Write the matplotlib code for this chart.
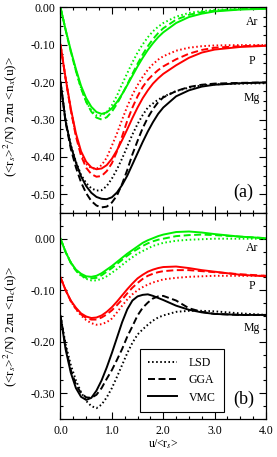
import matplotlib
matplotlib.use('Agg')
import matplotlib.pyplot as plt
from matplotlib.ticker import MultipleLocator, FormatStrFormatter

plt.rcParams['font.family'] = 'Liberation Serif'
plt.rcParams['mathtext.fontset'] = 'stix'
plt.rcParams['axes.unicode_minus'] = False

# u/<r_s> grid
u = [0.0, 0.1, 0.2, 0.3, 0.4, 0.5, 0.6, 0.7, 0.8, 0.9, 1.0, 1.1, 1.2, 1.3, 1.4,
     1.5, 1.6, 1.7, 1.8, 1.9, 2.0, 2.25, 2.5, 2.75, 3.0, 3.5, 4.0]

# exchange hole (panel a), curves shifted by species
ar_x_lsd = [0.0, -0.061, -0.118, -0.170, -0.216, -0.252, -0.276, -0.289, -0.290, -0.280, -0.262, -0.236, -0.205, -0.176,
            -0.147, -0.121, -0.099, -0.080, -0.064, -0.052, -0.042, -0.025, -0.015, -0.010, -0.007, -0.004, -0.003]
ar_x_gga = [0.0, -0.061, -0.118, -0.170, -0.217, -0.253, -0.279, -0.295, -0.300, -0.294, -0.279, -0.258, -0.233, -0.206,
            -0.178, -0.151, -0.126, -0.104, -0.085, -0.069, -0.056, -0.033, -0.020, -0.013, -0.009, -0.005, -0.003]
ar_x_vmc = [0.0, -0.060, -0.115, -0.165, -0.210, -0.243, -0.266, -0.280, -0.285, -0.281, -0.270, -0.253, -0.232, -0.208,
            -0.183, -0.158, -0.135, -0.114, -0.096, -0.080, -0.067, -0.042, -0.026, -0.017, -0.011, -0.006, -0.004]

p_x_lsd = [-0.100, -0.191, -0.273, -0.341, -0.390, -0.419, -0.430, -0.432, -0.422, -0.402, -0.370, -0.337, -0.300, -0.265,
           -0.234, -0.208, -0.186, -0.167, -0.152, -0.140, -0.131, -0.116, -0.108, -0.104, -0.102, -0.101, -0.101]
p_x_gga = [-0.100, -0.192, -0.275, -0.345, -0.397, -0.429, -0.446, -0.453, -0.451, -0.438, -0.417, -0.385, -0.345, -0.303,
           -0.268, -0.238, -0.213, -0.194, -0.180, -0.168, -0.158, -0.139, -0.124, -0.114, -0.108, -0.104, -0.102]
p_x_vmc = [-0.100, -0.190, -0.270, -0.337, -0.385, -0.413, -0.428, -0.433, -0.431, -0.422, -0.405, -0.382, -0.355, -0.326,
           -0.296, -0.268, -0.243, -0.222, -0.204, -0.190, -0.178, -0.155, -0.135, -0.121, -0.113, -0.106, -0.103]

mg_x_lsd = [-0.200, -0.303, -0.368, -0.413, -0.448, -0.470, -0.484, -0.490, -0.489, -0.478, -0.458, -0.433, -0.404, -0.372,
            -0.340, -0.312, -0.288, -0.268, -0.257, -0.247, -0.239, -0.224, -0.215, -0.209, -0.206, -0.204, -0.203]
mg_x_gga = [-0.200, -0.308, -0.378, -0.428, -0.468, -0.497, -0.518, -0.530, -0.535, -0.533, -0.522, -0.503, -0.472, -0.435,
            -0.393, -0.357, -0.323, -0.295, -0.272, -0.254, -0.241, -0.224, -0.213, -0.207, -0.204, -0.202, -0.201]
mg_x_vmc = [-0.200, -0.305, -0.370, -0.415, -0.452, -0.478, -0.496, -0.507, -0.512, -0.513, -0.508, -0.495, -0.475, -0.450,
            -0.420, -0.390, -0.360, -0.332, -0.307, -0.285, -0.268, -0.238, -0.222, -0.212, -0.207, -0.203, -0.201]

# correlation hole (panel b)
ar_c_lsd = [0.000, -0.025, -0.046, -0.062, -0.072, -0.078, -0.081, -0.081, -0.078, -0.073, -0.066, -0.059, -0.051, -0.043,
            -0.036, -0.029, -0.024, -0.019, -0.014, -0.011, -0.008, -0.004, -0.002, -0.001, 0.000, 0.000, 0.000]
ar_c_gga = [0.000, -0.026, -0.047, -0.062, -0.071, -0.076, -0.077, -0.076, -0.071, -0.064, -0.057, -0.049, -0.041, -0.033,
            -0.026, -0.020, -0.014, -0.009, -0.005, -0.002, 0.000, 0.005, 0.007, 0.008, 0.007, 0.004, 0.001]
ar_c_vmc = [0.000, -0.026, -0.046, -0.060, -0.068, -0.073, -0.074, -0.072, -0.067, -0.060, -0.053, -0.045, -0.037, -0.029,
            -0.022, -0.015, -0.008, -0.003, 0.001, 0.005, 0.008, 0.013, 0.014, 0.012, 0.009, 0.004, 0.001]

p_c_lsd = [-0.075, -0.100, -0.121, -0.137, -0.149, -0.158, -0.164, -0.167, -0.166, -0.162, -0.155, -0.143, -0.130, -0.118,
           -0.108, -0.100, -0.094, -0.089, -0.085, -0.082, -0.079, -0.076, -0.074, -0.073, -0.072, -0.072, -0.072]
p_c_gga = [-0.075, -0.100, -0.121, -0.136, -0.147, -0.154, -0.157, -0.157, -0.153, -0.147, -0.139, -0.129, -0.118, -0.106,
           -0.095, -0.086, -0.078, -0.072, -0.068, -0.065, -0.063, -0.061, -0.061, -0.063, -0.065, -0.069, -0.072]
p_c_vmc = [-0.075, -0.100, -0.120, -0.134, -0.145, -0.151, -0.154, -0.153, -0.149, -0.142, -0.133, -0.122, -0.110, -0.098,
           -0.087, -0.077, -0.070, -0.064, -0.060, -0.057, -0.055, -0.054, -0.057, -0.061, -0.064, -0.070, -0.073]

mg_c_lsd = [-0.150, -0.205, -0.245, -0.275, -0.298, -0.315, -0.325, -0.329, -0.322, -0.308, -0.290, -0.268, -0.245, -0.222,
            -0.202, -0.186, -0.176, -0.167, -0.159, -0.153, -0.149, -0.142, -0.140, -0.140, -0.141, -0.145, -0.148]
mg_c_gga = [-0.150, -0.210, -0.255, -0.283, -0.300, -0.308, -0.309, -0.303, -0.290, -0.272, -0.255, -0.235, -0.214, -0.190,
            -0.170, -0.149, -0.134, -0.124, -0.116, -0.112, -0.111, -0.120, -0.135, -0.142, -0.146, -0.148, -0.148]
mg_c_vmc = [-0.150, -0.215, -0.260, -0.290, -0.307, -0.313, -0.309, -0.295, -0.275, -0.250, -0.222, -0.192, -0.162, -0.137,
            -0.120, -0.112, -0.109, -0.108, -0.111, -0.115, -0.119, -0.130, -0.138, -0.143, -0.146, -0.148, -0.148]

species = ['Ar', 'P', 'Mg']
colors = ['#00f000', '#ff0000', 'black']
methods = ['LSD', 'GGA', 'VMC']
dashes = [(0, (0.8, 1.3)), (0, (3.6, 1.8)), '-']

x_curves = [[ar_x_lsd, ar_x_gga, ar_x_vmc],
            [p_x_lsd, p_x_gga, p_x_vmc],
            [mg_x_lsd, mg_x_gga, mg_x_vmc]]
c_curves = [[ar_c_lsd, ar_c_gga, ar_c_vmc],
            [p_c_lsd, p_c_gga, p_c_vmc],
            [mg_c_lsd, mg_c_gga, mg_c_vmc]]

fs = 8.5
fig = plt.figure(figsize=(2.77, 4.57), dpi=100)
ax1 = fig.add_axes([0.2184, 0.5339, 0.7419, 0.4501])
ax2 = fig.add_axes([0.2184, 0.0832, 0.7419, 0.4508])

for ax, curves in [(ax1, x_curves), (ax2, c_curves)]:
    for col, group in zip(colors, curves):
        for ls, y in zip(dashes, group):
            ax.plot(u, y, color=col, ls=ls, lw=1.4)

# species labels
for ax, ypos in [(ax1, [-0.039, -0.143, -0.243]), (ax2, [-0.018, -0.092, -0.174])]:
    for name, yy in zip(species, ypos):
        ax.text(3.72, yy, name, fontsize=fs, ha='center', va='center')
ax1.text(3.56, -0.496, '(a)', fontsize=13, ha='center', va='center')
ax2.text(3.56, -0.311, '(b)', fontsize=13, ha='center', va='center')

ax1.set_ylim(-0.55, 0.0)
ax2.set_ylim(-0.35, 0.05)
for ax in (ax1, ax2):
    ax.set_xlim(0, 4)
    ax.xaxis.set_major_locator(MultipleLocator(1.0))
    ax.xaxis.set_minor_locator(MultipleLocator(0.25))
    ax.yaxis.set_major_locator(MultipleLocator(0.1))
    ax.yaxis.set_minor_locator(MultipleLocator(0.025))
    ax.xaxis.set_major_formatter(FormatStrFormatter('%.1f'))
    ax.yaxis.set_major_formatter(FormatStrFormatter('%.2f'))
    ax.tick_params(which='both', direction='in', top=True, right=True, labelsize=fs, width=0.8)
    ax.tick_params(which='major', length=5, pad=4)
    ax.tick_params(which='minor', length=2.5)
    for sp in ax.spines.values():
        sp.set_linewidth(0.9)
ax1.tick_params(labelbottom=False)

ax1.set_ylabel(r'(<r$_s$>$^2$/N) 2$\pi$u <n$_x$(u)>', fontsize=9.5)
ax2.set_ylabel(r'(<r$_s$>$^2$/N) 2$\pi$u <n$_c$(u)>', fontsize=9.5)
ax1.yaxis.set_label_coords(-0.20, 0.47)
ax2.yaxis.set_label_coords(-0.20, 0.45)
ax2.set_xlabel(r'u/<r$_s$>', fontsize=fs, labelpad=1)

handles = [plt.Line2D([], [], color='black', ls=ls, lw=1.4) for ls in dashes]
leg = ax2.legend(handles, methods, loc='lower left', bbox_to_anchor=(0.388, 0.035),
                 fontsize=fs, frameon=True, fancybox=False, framealpha=1, edgecolor='black',
                 handlelength=2.4, handletextpad=1.0, borderpad=0.7, labelspacing=0.45,
                 borderaxespad=0)
leg.get_frame().set_linewidth(0.8)

fig.savefig('out.png', dpi=100)
